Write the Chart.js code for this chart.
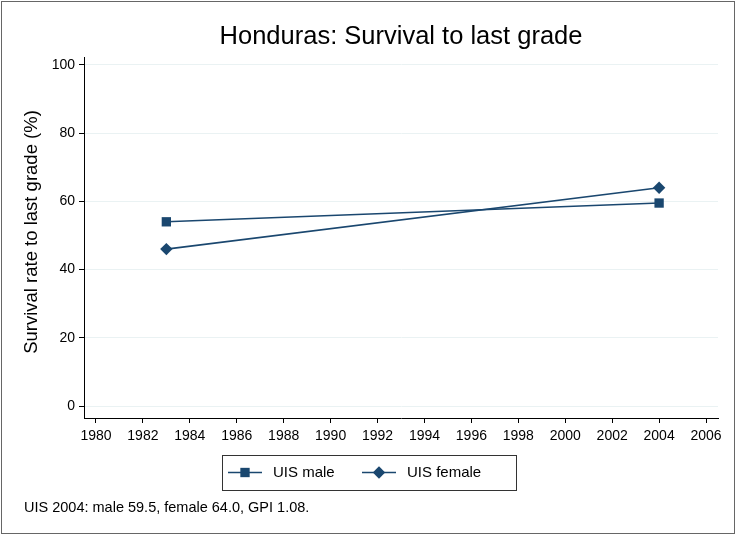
<!DOCTYPE html>
<html lang="en">
<head>
<meta charset="UTF-8">
<title>Honduras: Survival to last grade</title>
<script src="https://cdn.jsdelivr.net/npm/chart.js"></script>
<style>
  html, body { margin: 0; padding: 0; background: #fff; }
  #wrap { width: 736px; height: 535px; }
</style>
</head>
<body>
<div id="wrap"><canvas id="chart" width="736" height="535"></canvas></div>
<script>
// data
var years = [1983, 2004];
var male = [54.0, 59.5];
var female = [46.0, 64.0];
var xTicks = [1980, 1982, 1984, 1986, 1988, 1990, 1992, 1994, 1996, 1998, 2000, 2002, 2004, 2006];
var yTicks = [0, 20, 40, 60, 80, 100];
var seriesNames = ['UIS male', 'UIS female'];
var chartTitle = 'Honduras: Survival to last grade';
var yTitle = 'Survival rate to last grade (%)';
var note = 'UIS 2004: male 59.5, female 64.0, GPI 1.08.';

var navy = '#1a476f';
var font = '"Liberation Sans", Arial, sans-serif';

function pts(ys) {
    return years.map(function (y, i) { return { x: y, y: ys[i] }; });
}

// title, y title, legend, note and frame
var extras = {
    id: 'extras',
    afterDraw: function (chart) {
        var ctx = chart.ctx;
        var area = chart.chartArea;
        ctx.save();
        ctx.fillStyle = '#000';
        ctx.textBaseline = 'middle';

        ctx.font = '25.5px ' + font;
        ctx.textAlign = 'center';
        ctx.fillText(chartTitle, (area.left + area.right) / 2, 37);

        ctx.save();
        ctx.translate(32, 232);
        ctx.rotate(-Math.PI / 2);
        ctx.font = '18.5px ' + font;
        ctx.fillText(yTitle, 0, 0);
        ctx.restore();

        // legend box
        ctx.strokeStyle = '#333';
        ctx.lineWidth = 1;
        ctx.strokeRect(222.5, 455.5, 294, 35);
        var entries = [
            { x: 228, style: 'rect', r: 6.6 },
            { x: 362, style: 'rectRot', r: 6.2 }
        ];
        ctx.font = '15px ' + font;
        ctx.textAlign = 'left';
        entries.forEach(function (e, i) {
            ctx.strokeStyle = navy;
            ctx.lineWidth = 1.6;
            ctx.beginPath();
            ctx.moveTo(e.x, 472.5);
            ctx.lineTo(e.x + 34, 472.5);
            ctx.stroke();
            ctx.fillStyle = navy;
            Chart.helpers.drawPoint(ctx, { pointStyle: e.style, radius: e.r, borderWidth: 0 }, e.x + 17, 472.5);
            ctx.fillStyle = '#000';
            ctx.fillText(seriesNames[i], e.x + 45, 473);
        });

        ctx.font = '14.5px ' + font;
        ctx.fillText(note, 24, 508);

        ctx.strokeStyle = '#666';
        ctx.lineWidth = 1;
        ctx.strokeRect(1.5, 1.5, 733, 532);
        ctx.restore();
    }
};

new Chart(document.getElementById('chart').getContext('2d'), {
    type: 'line',
    data: {
        datasets: [
            {
                label: seriesNames[0],
                data: pts(male),
                borderColor: navy,
                backgroundColor: navy,
                borderWidth: 1.6,
                pointStyle: 'rect',
                pointRadius: 6.6,
                pointBorderWidth: 0,
                fill: false
            },
            {
                label: seriesNames[1],
                data: pts(female),
                borderColor: navy,
                backgroundColor: navy,
                borderWidth: 1.6,
                pointStyle: 'rectRot',
                pointRadius: 6.2,
                pointBorderWidth: 0,
                fill: false
            }
        ]
    },
    options: {
        responsive: false,
        animation: false,
        layout: { padding: { left: 0, top: 57, right: 18, bottom: 87 } },
        plugins: {
            legend: { display: false },
            tooltip: { enabled: false }
        },
        scales: {
            x: {
                type: 'linear',
                min: 1979.49,
                max: 2006.51,
                afterBuildTicks: function (s) { s.ticks = xTicks.map(function (v) { return { value: v }; }); },
                afterFit: function (s) { s.height = 30; },
                grid: { drawOnChartArea: false, drawTicks: true, tickLength: 5, tickColor: '#000', tickWidth: 1 },
                border: { display: true, color: '#000', width: 1 },
                ticks: { color: '#000', font: { family: font, size: 14 }, padding: 5, maxRotation: 0, autoSkip: false,
                         callback: function (v) { return String(v); } }
            },
            y: {
                min: -3.5,
                max: 102.3,
                afterBuildTicks: function (s) { s.ticks = yTicks.map(function (v) { return { value: v }; }); },
                afterFit: function (s) { s.width = 84; },
                grid: { color: '#eaf2f3', lineWidth: 1, drawTicks: true, tickLength: 5, tickColor: '#000' },
                border: { display: true, color: '#000', width: 1 },
                ticks: { color: '#000', font: { family: font, size: 14 }, padding: 4 }
            }
        }
    },
    plugins: [extras]
});
</script>
</body>
</html>
